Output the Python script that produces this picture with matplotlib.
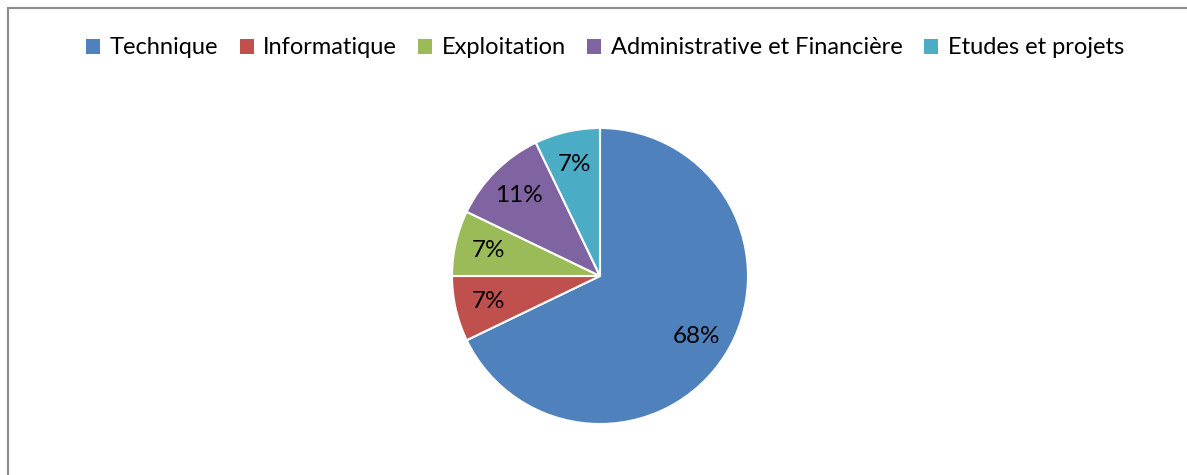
import matplotlib.pyplot as plt
from matplotlib.patches import Rectangle, Patch

# data
categories = ['Technique', 'Informatique', 'Exploitation',
              'Administrative et Financière', 'Etudes et projets']
counts = [19, 2, 2, 3, 2]
colors = ['#4F81BD', '#C0504D', '#9BBB59', '#8064A2', '#4BACC6']

plt.rcParams['font.family'] = ['Lato', 'DejaVu Sans']

W, H = 1187, 475
fig = plt.figure(figsize=(W / 100, H / 100), dpi=100)

# chart frame (top and left edges visible, rest cropped)
fig.patches.append(Rectangle((7.5 / W, -0.1), 1.2, 1 - 7.5 / H + 0.1,
                             transform=fig.transFigure, fill=False,
                             edgecolor='#8c8c8c', linewidth=1.5))

cx, cy, r = 600, 276, 148
box = 160
ax = fig.add_axes([(cx - box) / W, (H - cy - box) / H, 2 * box / W, 2 * box / H])
wedges, texts, autotexts = ax.pie(
    counts, colors=colors, startangle=90, counterclock=False,
    radius=r / box, autopct='%1.0f%%', pctdistance=0.77,
    wedgeprops=dict(edgecolor='white', linewidth=1.5),
    textprops=dict(fontsize=17.5, color='black'))
ax.set_xlim(-1, 1)
ax.set_ylim(-1, 1)
ax.set_aspect('equal')
ax.axis('off')

handles = [Patch(facecolor=c, edgecolor='none') for c in colors]
fig.legend(handles, categories, loc='center', bbox_to_anchor=(605 / W, 1 - 48 / H),
           ncol=5, frameon=False, fontsize=17, handlelength=0.6, handleheight=0.6,
           handletextpad=0.4, columnspacing=0.9)

fig.savefig('out.png', dpi=100)
